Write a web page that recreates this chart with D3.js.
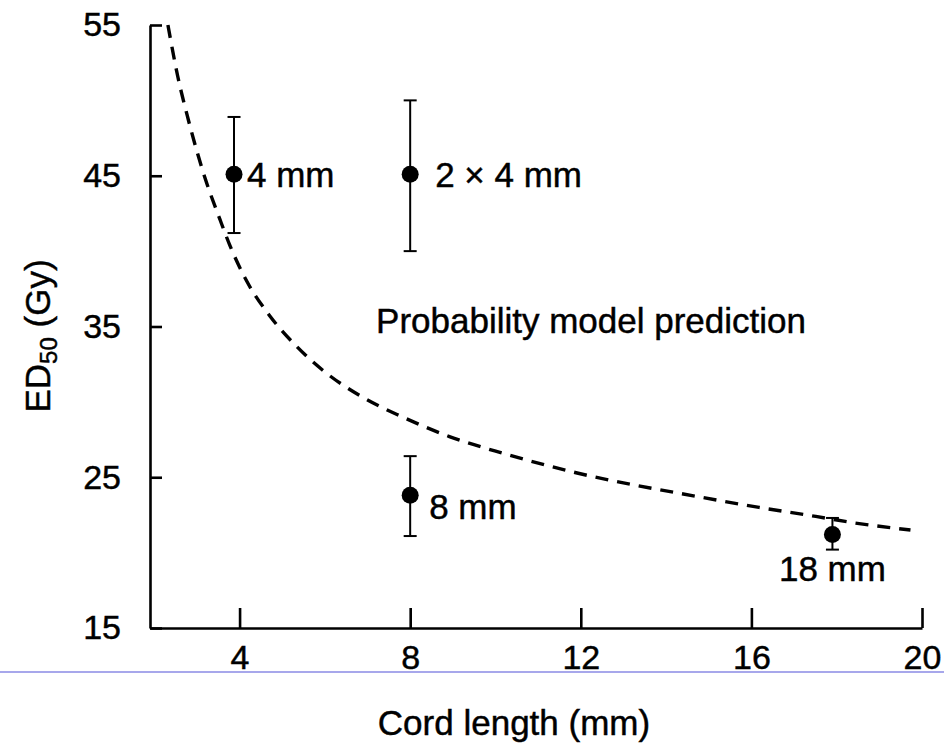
<!DOCTYPE html>
<html>
<head>
<meta charset="utf-8">
<script src="https://d3js.org/d3.v7.min.js"></script>
<style>
  body { margin: 0; background: #fff; }
  svg text { font-family: "Liberation Sans", Arial, Helvetica, sans-serif; fill: #000; stroke: #000; stroke-width: 0.45px; }
  .axis path, .axis line { stroke: #000; stroke-width: 2.6px; }
  .axis text { font-size: 34px; }
  .model-line { fill: none; stroke: #000; stroke-width: 3.4px; stroke-dasharray: 13 9; }
  .err-bar { stroke: #000; stroke-width: 2px; }
  .point-label, .note { font-size: 35px; }
  .axis-title { font-size: 35px; }
</style>
</head>
<body>
<svg id="chart"></svg>
<script>
// measured points: cord length (mm) vs ED50 (Gy) with error bars
const cordLength = [3.87, 8, 8, 17.9];
const ed50 = [45.1, 45.1, 23.8, 21.2];
const errLow = [41.2, 40.0, 21.1, 20.2];
const errHigh = [48.9, 50.0, 26.4, 22.3];
const pointLabels = ["4 mm", "2 × 4 mm", "8 mm", "18 mm"];

// probability model prediction (dashed curve)
const modelX = [2.32, 2.55, 2.8, 3.19, 3.54, 3.77, 4.17, 4.71, 5.33, 5.95, 6.89, 7.82, 8.92, 10.16, 11.89, 14.77, 16.18, 17.51, 18.35, 19.73];
const modelY = [55.0, 51.6, 48.7, 44.85, 42.1, 40.4, 38.0, 35.7, 33.7, 32.1, 30.3, 29.0, 27.7, 26.6, 25.3, 23.7, 23.0, 22.4, 22.0, 21.5];

const xTicks = [4, 8, 12, 16, 20];
const yTicks = [15, 25, 35, 45, 55];

// label offsets (px) from each point
const labelOffsets = [
  { dx: 13, dy: 13, anchor: 'start' },
  { dx: 25, dy: 13, anchor: 'start' },
  { dx: 19, dy: 24, anchor: 'start' },
  { dx: 0, dy: 46, anchor: 'middle' }
];

class CordPlot {

  constructor(_config) {
    this.config = {
      parentElement: _config.parentElement,
      containerWidth: _config.containerWidth || 944,
      containerHeight: _config.containerHeight || 744,
      margin: { top: 25, bottom: 116, right: 22, left: 150 }
    }
    this.points = cordLength.map((x, i) => ({
      x: x, y: ed50[i], lo: errLow[i], hi: errHigh[i], label: pointLabels[i]
    }));
    this.model = modelX.map((x, i) => ({ x: x, y: modelY[i] }));
    this.initVis();
  }

  initVis() {
    let vis = this;

    vis.width = vis.config.containerWidth - vis.config.margin.left - vis.config.margin.right;
    vis.height = vis.config.containerHeight - vis.config.margin.top - vis.config.margin.bottom;

    vis.xScale = d3.scaleLinear()
        .domain([1.9, 20])
        .range([0, vis.width]);

    vis.yScale = d3.scaleLinear()
        .domain([15, 55])
        .range([vis.height, 0]);

    // ticks point inwards
    vis.xAxis = d3.axisBottom(vis.xScale)
        .tickValues(xTicks)
        .tickSizeInner(-20)
        .tickSizeOuter(0)
        .tickPadding(17)
        .tickFormat(d3.format('d'));

    vis.yAxis = d3.axisLeft(vis.yScale)
        .tickValues(yTicks)
        .tickSizeInner(-12)
        .tickSizeOuter(0)
        .tickPadding(29)
        .tickFormat(d3.format('d'));

    vis.svg = d3.select(vis.config.parentElement)
        .attr('width', vis.config.containerWidth)
        .attr('height', vis.config.containerHeight);

    vis.chart = vis.svg.append('g')
        .attr('transform', `translate(${vis.config.margin.left},${vis.config.margin.top})`);

    vis.xAxisG = vis.chart.append('g')
        .attr('class', 'axis x-axis')
        .attr('transform', `translate(0,${vis.height})`);

    vis.yAxisG = vis.chart.append('g')
        .attr('class', 'axis y-axis');

    // axis titles
    vis.svg.append('text')
        .attr('class', 'axis-title')
        .attr('text-anchor', 'middle')
        .attr('x', 514)
        .attr('y', 735)
        .text('Cord length (mm)');

    let yTitle = vis.svg.append('text')
        .attr('class', 'axis-title')
        .attr('text-anchor', 'middle')
        .attr('transform', 'translate(50,336) rotate(-90)');
    yTitle.append('tspan').text('ED');
    yTitle.append('tspan').attr('font-size', '24px').attr('dy', 7).text('50');
    yTitle.append('tspan').attr('dy', -7).text(' (Gy)');

    // thin blue rule under the tick labels (as in the scan)
    vis.svg.append('line')
        .attr('x1', 0).attr('x2', vis.config.containerWidth)
        .attr('y1', 672).attr('y2', 672)
        .attr('stroke', '#8a8ae4')
        .attr('stroke-width', 1.5);

    this.updateVis();
  }

  updateVis() {
    let vis = this;

    vis.line = d3.line()
        .x(d => vis.xScale(d.x))
        .y(d => vis.yScale(d.y))
        .curve(d3.curveMonotoneX);

    this.renderVis();
  }

  renderVis() {
    let vis = this;

    vis.xAxisG.call(vis.xAxis);
    vis.yAxisG.call(vis.yAxis);

    vis.chart.append('path')
        .datum(vis.model)
        .attr('class', 'model-line')
        .attr('d', vis.line);

    const pts = vis.chart.selectAll('.pt')
        .data(vis.points)
      .join('g')
        .attr('class', 'pt');

    pts.append('line')
        .attr('class', 'err-bar')
        .attr('x1', d => vis.xScale(d.x))
        .attr('x2', d => vis.xScale(d.x))
        .attr('y1', d => vis.yScale(d.lo))
        .attr('y2', d => vis.yScale(d.hi));

    // caps
    ['lo', 'hi'].forEach(k => {
      pts.append('line')
          .attr('class', 'err-bar')
          .attr('x1', d => vis.xScale(d.x) - 6.5)
          .attr('x2', d => vis.xScale(d.x) + 6.5)
          .attr('y1', d => vis.yScale(d[k]))
          .attr('y2', d => vis.yScale(d[k]));
    });

    pts.append('circle')
        .attr('cx', d => vis.xScale(d.x))
        .attr('cy', d => vis.yScale(d.y))
        .attr('r', 8.5)
        .attr('fill', '#000');

    pts.append('text')
        .attr('class', 'point-label')
        .attr('text-anchor', (d, i) => labelOffsets[i].anchor)
        .attr('x', (d, i) => vis.xScale(d.x) + labelOffsets[i].dx)
        .attr('y', (d, i) => vis.yScale(d.y) + labelOffsets[i].dy)
        .text(d => d.label);

    vis.chart.append('text')
        .attr('class', 'note')
        .attr('x', vis.xScale(7.2))
        .attr('y', vis.yScale(34.6))
        .text('Probability model prediction');
  }
}

let plot = new CordPlot({ parentElement: '#chart' });
</script>
</body>
</html>
